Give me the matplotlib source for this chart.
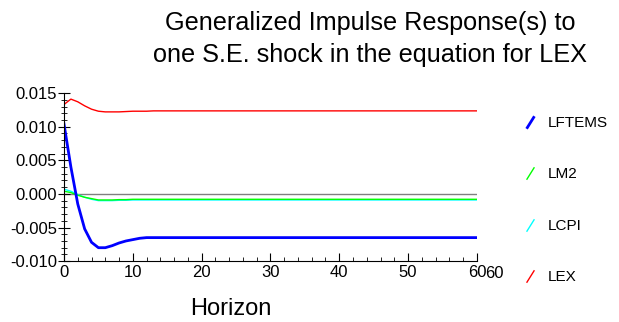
import matplotlib
matplotlib.use("Agg")
import matplotlib.pyplot as plt
from matplotlib.lines import Line2D
import numpy as np

plt.rcParams['font.family'] = ['Liberation Sans', 'DejaVu Sans']

horizon = list(range(61))

# responses, horizons 0..60
lftems = [0.0104, 0.0040, -0.0015, -0.0052, -0.0072, -0.0080, -0.0080, -0.0077,
          -0.0073, -0.0070, -0.0068, -0.0066, -0.0065, -0.0065, -0.0065, -0.0065,
          -0.0065, -0.0065, -0.0065, -0.0065, -0.0065, -0.0065, -0.0065, -0.0065,
          -0.0065, -0.0065, -0.0065, -0.0065, -0.0065, -0.0065, -0.0065, -0.0065,
          -0.0065, -0.0065, -0.0065, -0.0065, -0.0065, -0.0065, -0.0065, -0.0065,
          -0.0065, -0.0065, -0.0065, -0.0065, -0.0065, -0.0065, -0.0065, -0.0065,
          -0.0065, -0.0065, -0.0065, -0.0065, -0.0065, -0.0065, -0.0065, -0.0065,
          -0.0065, -0.0065, -0.0065, -0.0065, -0.0065]
lm2 = [0.0004, 0.0002, -0.0002, -0.0005, -0.0007, -0.0009, -0.0009, -0.0009,
       -0.00085, -0.00085, -0.0008, -0.0008, -0.0008, -0.0008, -0.0008, -0.0008,
       -0.0008, -0.0008, -0.0008, -0.0008, -0.0008, -0.0008, -0.0008, -0.0008,
       -0.0008, -0.0008, -0.0008, -0.0008, -0.0008, -0.0008, -0.0008, -0.0008,
       -0.0008, -0.0008, -0.0008, -0.0008, -0.0008, -0.0008, -0.0008, -0.0008,
       -0.0008, -0.0008, -0.0008, -0.0008, -0.0008, -0.0008, -0.0008, -0.0008,
       -0.0008, -0.0008, -0.0008, -0.0008, -0.0008, -0.0008, -0.0008, -0.0008,
       -0.0008, -0.0008, -0.0008, -0.0008, -0.0008]
lcpi = [0.0007, 0.0004, -0.0001, -0.0005, -0.0008, -0.0010, -0.0010, -0.0010,
        -0.00095, -0.00095, -0.0009, -0.0009, -0.0009, -0.0009, -0.0009, -0.0009,
        -0.0009, -0.0009, -0.0009, -0.0009, -0.0009, -0.0009, -0.0009, -0.0009,
        -0.0009, -0.0009, -0.0009, -0.0009, -0.0009, -0.0009, -0.0009, -0.0009,
        -0.0009, -0.0009, -0.0009, -0.0009, -0.0009, -0.0009, -0.0009, -0.0009,
        -0.0009, -0.0009, -0.0009, -0.0009, -0.0009, -0.0009, -0.0009, -0.0009,
        -0.0009, -0.0009, -0.0009, -0.0009, -0.0009, -0.0009, -0.0009, -0.0009,
        -0.0009, -0.0009, -0.0009, -0.0009, -0.0009]
lex = [0.0133, 0.0141, 0.0137, 0.0131, 0.0126, 0.0123, 0.0122, 0.0122,
       0.0122, 0.01225, 0.0123, 0.0123, 0.0123, 0.01235, 0.01235, 0.01235,
       0.01235, 0.01235, 0.01235, 0.01235, 0.01235, 0.01235, 0.01235, 0.01235,
       0.01235, 0.01235, 0.01235, 0.01235, 0.01235, 0.01235, 0.01235, 0.01235,
       0.01235, 0.01235, 0.01235, 0.01235, 0.01235, 0.01235, 0.01235, 0.01235,
       0.01235, 0.01235, 0.01235, 0.01235, 0.01235, 0.01235, 0.01235, 0.01235,
       0.01235, 0.01235, 0.01235, 0.01235, 0.01235, 0.01235, 0.01235, 0.01235,
       0.01235, 0.01235, 0.01235, 0.01235, 0.01235]

names = ['LFTEMS', 'LM2', 'LCPI', 'LEX']
colors = ['#0000ff', '#00ff00', '#00ffff', '#ff0000']
widths = [2.0, 1.0, 1.0, 1.0]
series = [lftems, lm2, lcpi, lex]

fig = plt.figure(figsize=(6.19, 3.22), dpi=100)
ax = fig.add_axes([0.1034, 0.189, 0.667, 0.522])

ax.axhline(0, color='#808080', lw=1.0, zorder=1)
for s, c, w in zip(series[::-1], colors[::-1], widths[::-1]):
    ax.plot(horizon, s, color=c, lw=w, zorder=2)

ax.set_xlim(0, 60)
ax.set_ylim(-0.010, 0.015)
ax.set_xticks(range(0, 61, 10))
ax.set_xticks(range(0, 61, 2), minor=True)
ax.set_yticks(np.arange(-0.010, 0.0151, 0.005))
ax.set_yticks(np.arange(-0.010, 0.0151, 0.001), minor=True)
ax.set_yticklabels(['-0.010', '-0.005', '0.000', '0.005', '0.010', '0.015'])

for side in ['top', 'right']:
    ax.spines[side].set_visible(False)
ax.tick_params(axis='y', which='major', direction='inout', length=8, labelsize=12, pad=1)
ax.tick_params(axis='y', which='minor', direction='inout', length=5)
ax.tick_params(axis='x', which='major', direction='in', length=6, labelsize=12, pad=3)
ax.tick_params(axis='x', which='minor', direction='in', length=3)
# the source repeats the last tick label right next to it
ax.annotate('60', xy=(60, 0), xycoords=('data', 'axes fraction'),
            xytext=(6, -3.5), textcoords='offset points',
            ha='left', va='top', fontsize=12)

ax.set_xlabel('Horizon', fontsize=17)
ax.xaxis.set_label_coords(0.404, -0.22)

fig.text(0.598, 0.965, 'Generalized Impulse Response(s) to\none S.E. shock in the equation for LEX',
         ha='center', va='top', fontsize=18.2, linespacing=1.42)

handles = [Line2D([], [], linestyle='None', marker=[(-1, -1.6), (1, 1.6)],
                  markersize=9, markeredgecolor=c, markeredgewidth=w)
           for c, w in zip(colors, [2.0, 1.0, 1.0, 1.0])]
ax.legend(handles, names, loc='upper left', bbox_to_anchor=(1.078, 0.945),
          frameon=False, fontsize=11, labelspacing=2.45, handletextpad=0.6,
          handlelength=1.0)

fig.savefig('out.png', dpi=100)
